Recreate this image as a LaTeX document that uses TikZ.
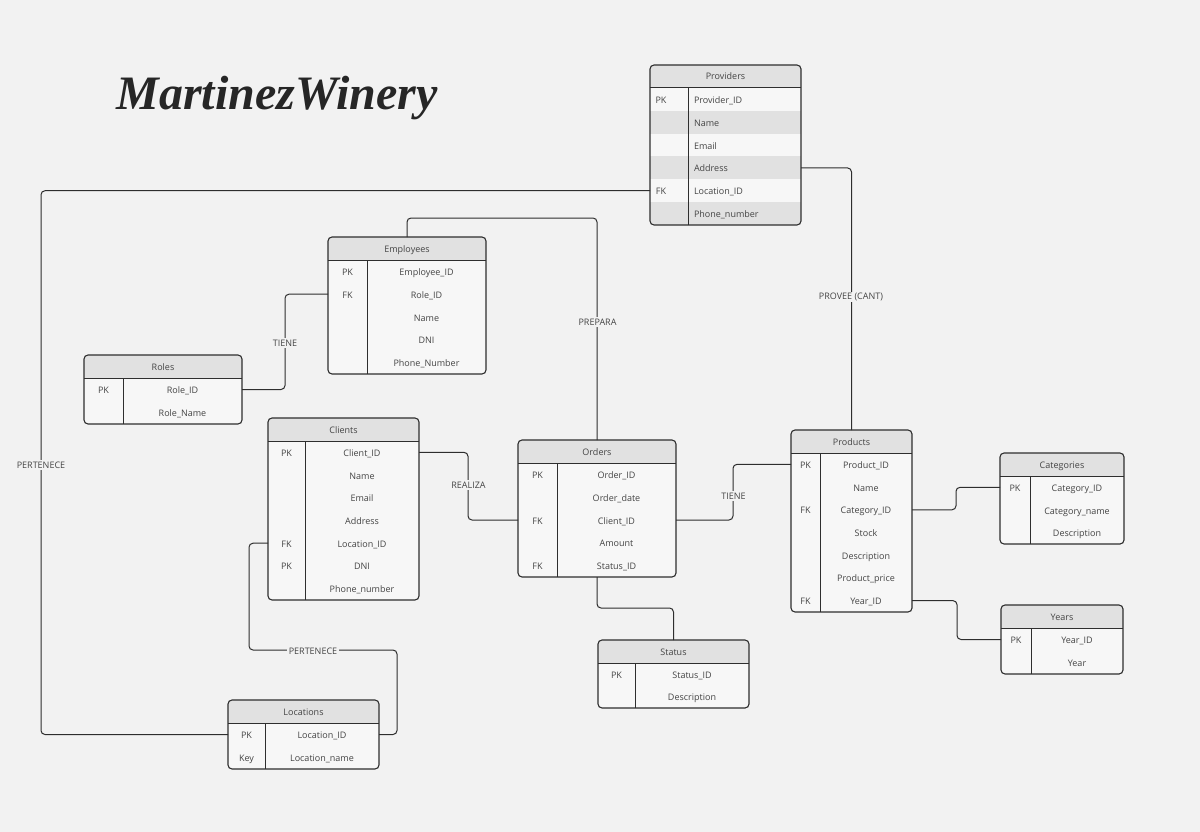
\documentclass[tikz,border=0pt]{standalone}
\usepackage{fontspec}
\setmainfont{Open Sans}
\newfontfamily\titlefont{Liberation Serif}
\usepackage{xcolor}
\usetikzlibrary{calc}
\definecolor{Paper}{HTML}{F2F2F2}
\definecolor{RowLight}{HTML}{F7F7F7}
\definecolor{RowDark}{HTML}{E1E1E1}
\definecolor{Ink}{HTML}{2E2E2E}
\definecolor{Label}{HTML}{444444}
\tikzset{
  x=1pt,y=-1pt,
  rowstyle1/.style={fill=RowLight},
  rowstyle0/.style={fill=RowLight},
  rowbox/.style={anchor=north west,inner sep=0pt,outer sep=0pt},
  tablebox/.style={anchor=north west,draw=Ink,line width=1.1pt,rounded corners=4pt,inner sep=0pt,outer sep=0pt},
  celltext/.style={text=Label,inner sep=0pt,text height=7pt,text depth=2pt},
  keytext/.style={},
  fieldtext/.style={align=center},
  striped/.style={rowstyle0/.style={fill=RowDark},keytext/.style={xshift=-8pt},fieldtext/.style={align=left}},
  link/.style={draw=Ink,line width=1pt,rounded corners=4pt},
  linklabel/.style={fill=Paper,text=Label,inner sep=1.5pt},
}
% #1 scope options, #2 name, (#3,#4)-(#5,#6) corners, #7 divider x, #8 title, #9 rows
\newcommand{\ertable}[9][]{
  \begin{scope}[#1]
    \pgfmathsetmacro{\headY}{#4+23}
    \pgfmathsetmacro{\tableW}{#5-#3}
    \pgfmathsetmacro{\tableH}{#6-#4}
    \pgfmathsetmacro{\fieldW}{#5-#7-12}
    \pgfmathsetmacro{\midKey}{(#3+#7)/2}
    \pgfmathsetmacro{\midField}{(#5+#7)/2}
    \foreach \key/\field [count=\r] in {#9} {\global\let\rowN\r}
    \pgfmathsetmacro{\rowH}{(#6-\headY)/\rowN}
    \begin{scope}
      \clip[rounded corners=4pt] (#3,#4) rectangle (#5,#6);
      \fill[RowDark] (#3,#4) rectangle (#5,\headY);
      \foreach \key/\field [count=\r] in {#9} {
        \pgfmathsetmacro{\rowY}{\headY+(\r-1)*\rowH}
        \pgfmathsetmacro{\textY}{\rowY+.5*\rowH+1.5}
        \pgfmathtruncatemacro{\rowOdd}{mod(\r,2)}
        \node[rowbox,rowstyle\rowOdd,minimum width=\tableW pt,minimum height=\rowH pt] (#2-\r) at (#3,\rowY) {};
        \node[celltext,keytext] (#2-\r-key) at (\midKey,\textY) {\key};
        \node[celltext,fieldtext,text width=\fieldW pt] (#2-\r-field) at (\midField,\textY) {\field};
      }
    \end{scope}
    \node[celltext] (#2-head) at ({(#3+#5)/2},{#4+12.5}) {#8};
    \draw[draw=Ink,line width=1pt] (#3,\headY) -- (#5,\headY);
    \draw[draw=Ink,line width=1pt] (#7,\headY) -- (#7,#6);
    \node[tablebox,minimum width=\tableW pt,minimum height=\tableH pt] (#2) at (#3,#4) {};
  \end{scope}
}
\begin{document}
\begin{tikzpicture}[font=\fontsize{9}{11}\selectfont]
  \useasboundingbox (0,0) rectangle (1200,832);
  \fill[Paper] (0,0) rectangle (1200,832);
  \node[anchor=center,text=black!85] (title) at (277,98) {\titlefont\fontsize{48}{50}\selectfont\bfseries\itshape MartinezWinery};

  \ertable[striped]{providers}{650}{65}{801}{225}{688}{Providers}{PK/Provider\_ID,/Name,/Email,/Address,FK/Location\_ID,/Phone\_number}
  \ertable{employees}{328}{237}{486}{374}{367}{Employees}{PK/Employee\_ID,FK/Role\_ID,/Name,/DNI,/Phone\_Number}
  \ertable{roles}{84}{355}{242}{424}{123}{Roles}{PK/Role\_ID,/Role\_Name}
  \ertable{clients}{268}{418}{419}{600}{305}{Clients}{PK/Client\_ID,/Name,/Email,/Address,FK/Location\_ID,PK/DNI,/Phone\_number}
  \ertable{orders}{518}{440}{676}{577}{557}{Orders}{PK/Order\_ID,/Order\_date,FK/Client\_ID,/Amount,FK/Status\_ID}
  \ertable{products}{791}{430}{912}{612}{820}{Products}{PK/Product\_ID,/Name,FK/Category\_ID,/Stock,/Description,/Product\_price,FK/Year\_ID}
  \ertable{categories}{1000}{453}{1124}{544}{1030}{Categories}{PK/Category\_ID,/Category\_name,/Description}
  \ertable{years}{1001}{605}{1123}{674}{1031}{Years}{PK/Year\_ID,/Year}
  \ertable{status}{598}{640}{749}{708}{635}{Status}{PK/Status\_ID,/Description}
  \ertable{locations}{228}{700}{379}{769}{265}{Locations}{PK/Location\_ID,Key/Location\_name}

  % bend columns and rows
  \coordinate (leftBus) at (41,0);
  \coordinate (roleBus) at (285,0);
  \coordinate (realBus) at (468,0);
  \coordinate (tieneBus) at (733,0);
  \coordinate (catBus) at (956,0);
  \coordinate (yearBus) at (957,0);
  \coordinate (clientBus) at (249,0);
  \coordinate (locBus) at (397,0);
  \coordinate (prepRow) at (0,218);
  \coordinate (statRow) at (0,608);
  \coordinate (locRow) at (0,650);

  \draw[link] (providers-5.west) -- (leftBus |- providers-5.west) -- (leftBus |- locations-1.west) -- (locations-1.west);
  \draw[link] (providers-4.east) -- (products.north |- providers-4.east) -- (products.north);
  \draw[link] (employees.north) -- (employees.north |- prepRow) -- (orders.north |- prepRow) -- (orders.north);
  \draw[link] (employees-2.west) -- (roleBus |- employees-2.west) -- (roleBus |- roles-1.east) -- (roles-1.east);
  \draw[link] (clients-1.east) -- (realBus |- clients-1.east) -- (realBus |- orders-3.west) -- (orders-3.west);
  \draw[link] (orders-3.east) -- (tieneBus |- orders-3.east) -- (tieneBus |- products-1.west) -- (products-1.west);
  \draw[link] (products-3.east) -- (catBus |- products-3.east) -- (catBus |- categories-1.west) -- (categories-1.west);
  \draw[link] (products-7.east) -- (yearBus |- products-7.east) -- (yearBus |- years-1.west) -- (years-1.west);
  \draw[link] (orders.south) -- (orders.south |- statRow) -- (status.north |- statRow) -- (status.north);
  \draw[link] (clients-5.west) -- (clientBus |- clients-5.west) -- (clientBus |- locRow) -- (locBus |- locRow) -- (locBus |- locations-1.east) -- (locations-1.east);

  \node[linklabel] (lblProvee) at (851,297) {PROVEE (CANT)};
  \node[linklabel] (lblPrepara) at (597.5,322) {PREPARA};
  \node[linklabel] (lblRole) at (285,343) {TIENE};
  \node[linklabel] (lblLeft) at (41,465) {PERTENECE};
  \node[linklabel] (lblRealiza) at (468.5,485) {REALIZA};
  \node[linklabel] (lblTiene) at (733.5,496) {TIENE};
  \node[linklabel] (lblLoc) at (313,651) {PERTENECE};
\end{tikzpicture}
\end{document}
